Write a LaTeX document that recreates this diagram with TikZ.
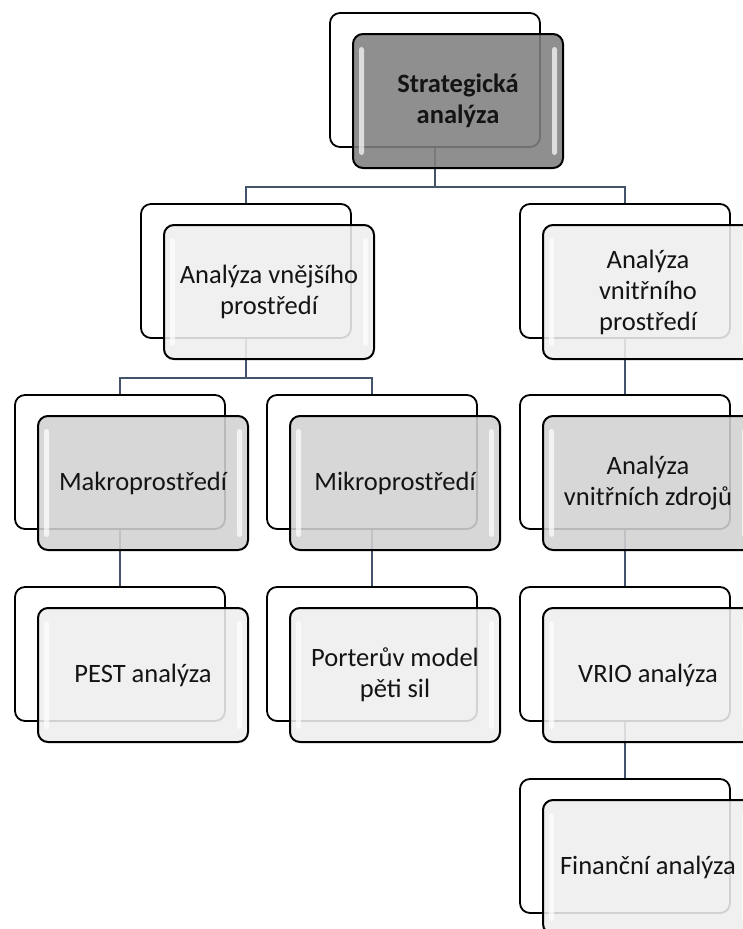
\documentclass[tikz,border=0pt]{standalone}
\usepackage{fontspec}
\setmainfont{Carlito}
\usetikzlibrary{calc}

\definecolor{conncol}{RGB}{68,84,106}
\definecolor{lightfill}{RGB}{238,238,238}
\definecolor{midfill}{RGB}{210,210,210}
\definecolor{darkfill}{RGB}{128,128,128}
\definecolor{textcol}{RGB}{20,20,20}

\tikzset{
  backbox/.style={draw=black, line width=1.8pt, fill=white, rounded corners=10pt,
    minimum width=210pt, minimum height=134pt, inner sep=0pt},
  frontbox/.style={backbox, line width=2pt, fill opacity=0.88, text opacity=1,
    align=center, font=\fontsize{26.5}{31}\selectfont, text=textcol},
  conn/.style={draw=conncol, line width=2.6pt},
  gloss/.style={fill=white, opacity=0.7, rounded corners=2.5pt},
}

% back card of a pair: name, top-left x, top-left y
\newcommand\pBack[3]{\node[backbox] (#1b) at (#2+105,#3+67) {};}
% front card of a pair, shifted down-right, with glossy side strips
\newcommand\pFront[5]{%
  \node[frontbox, fill=#4] (#1) at (#2+128,#3+88) {#5};
  \fill[gloss] ($(#1.north west)+(7,14)$) rectangle ($(#1.south west)+(12,-14)$);
  \fill[gloss] ($(#1.north east)+(-12,14)$) rectangle ($(#1.south east)+(-7,-14)$);
}

\begin{document}
\begin{tikzpicture}[x=1pt, y=-1pt]
\useasboundingbox[fill=white] (0,0) rectangle (743,929);

% back cards
\pBack{sa}{330}{13}
\pBack{ve}{141}{204}
\pBack{vi}{520}{204}
\pBack{mak}{15}{395}
\pBack{mik}{267}{395}
\pBack{vz}{520}{395}
\pBack{pest}{15}{587}
\pBack{por}{267}{587}
\pBack{vrio}{520}{587}
\pBack{fin}{520}{779}

% connectors
\coordinate (j1) at (435,187);
\coordinate (j2) at (246,378);
\draw[conn] (sab.south) -- (j1);
\draw[conn] (j1) -| (veb.north);
\draw[conn] (j1) -| (vib.north);
\draw[conn] (veb.south) -- (j2);
\draw[conn] (j2) -| (makb.north);
\draw[conn] (j2) -| (mikb.north);
\draw[conn] (makb.south) -- (pestb.north);
\draw[conn] (mikb.south) -- (porb.north);
\draw[conn] (vib.south) -- (vzb.north);
\draw[conn] (vzb.south) -- (vriob.north);
\draw[conn] (vriob.south) -- (finb.north);

% front cards
\pFront{sa}{330}{13}{darkfill}{\bfseries Strategická\\\bfseries analýza}
\pFront{ve}{141}{204}{lightfill}{Analýza vnějšího\\prostředí}
\pFront{vi}{520}{204}{lightfill}{Analýza\\vnitřního\\prostředí}
\pFront{mak}{15}{395}{midfill}{Makroprostředí}
\pFront{mik}{267}{395}{midfill}{Mikroprostředí}
\pFront{vz}{520}{395}{midfill}{Analýza\\vnitřních zdrojů}
\pFront{pest}{15}{587}{lightfill}{PEST analýza}
\pFront{por}{267}{587}{lightfill}{Porterův model\\pěti sil}
\pFront{vrio}{520}{587}{lightfill}{VRIO analýza}
\pFront{fin}{520}{779}{lightfill}{Finanční analýza}
\end{tikzpicture}
\end{document}
